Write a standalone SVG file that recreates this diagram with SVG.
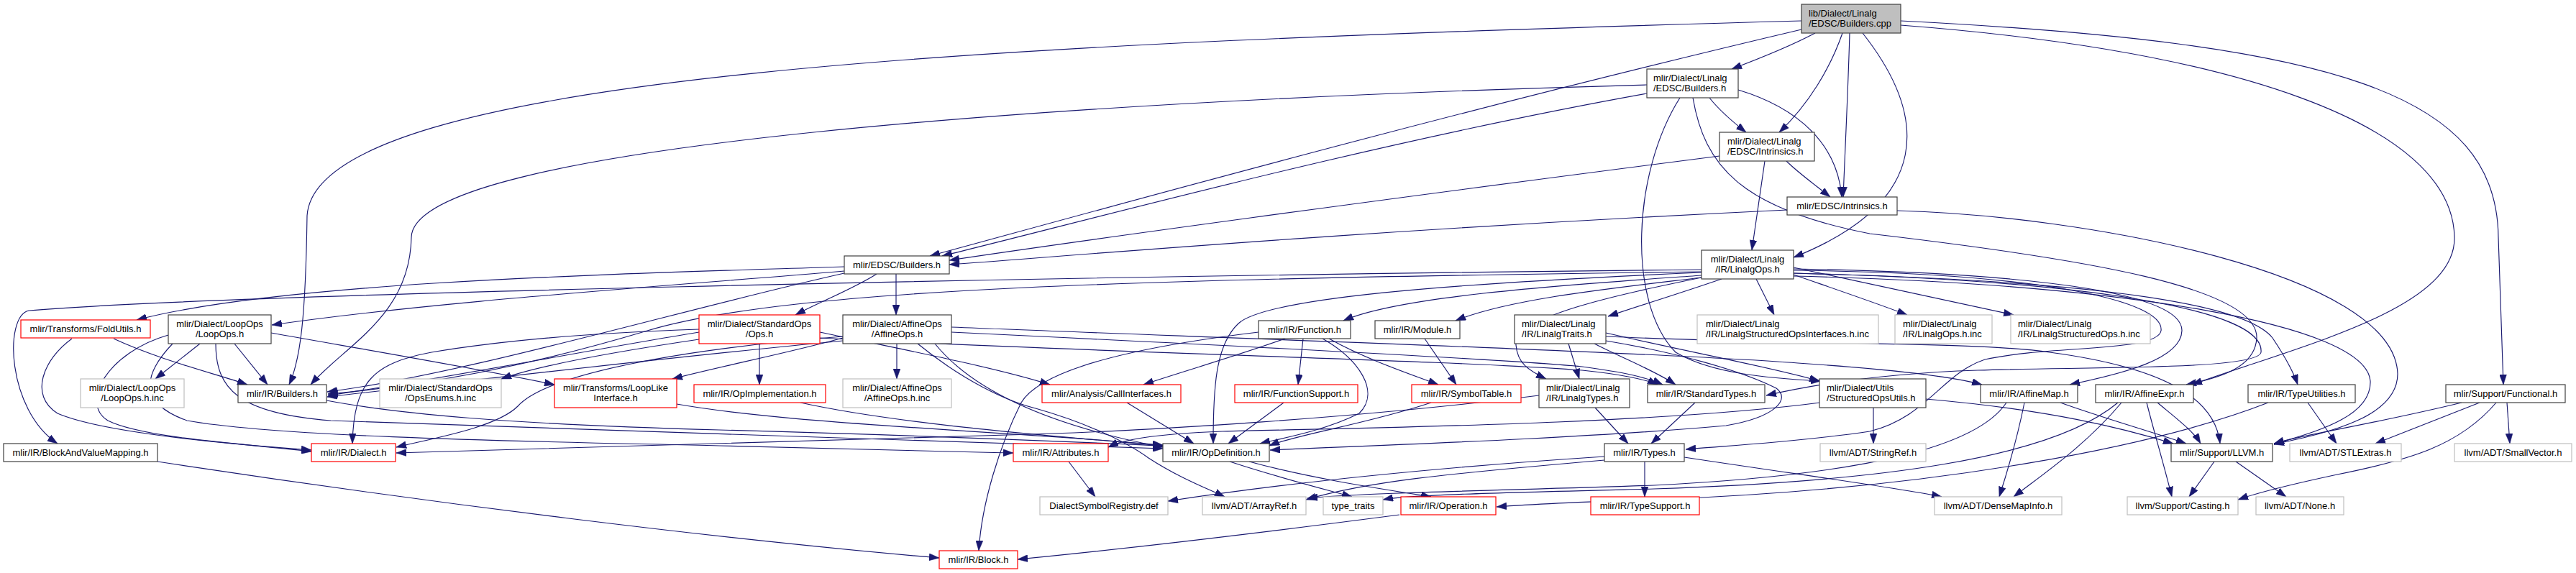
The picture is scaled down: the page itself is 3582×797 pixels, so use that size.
<svg xmlns="http://www.w3.org/2000/svg" width="3582" height="797" viewBox="0 0 3582 797">
<style>
rect{fill:#fff;stroke:#404040;stroke-width:1.2}
rect.root{fill:#bfbfbf}
rect.l{stroke:#bfbfbf}
rect.r{stroke:#ff0000}
text{font-family:"Liberation Sans",Arial,sans-serif;font-size:13px;fill:#000}
text.c{text-anchor:middle}
.e path{fill:none;stroke:#191970;stroke-width:1.15;marker-end:url(#a)}
</style>
<defs>
<marker id="a" markerUnits="userSpaceOnUse" markerWidth="14" markerHeight="10" viewBox="0 0 13.3 9.4" refX="13.3" refY="4.7" orient="auto">
<path d="M0,0 L13.3,4.7 L0,9.4 z" fill="#191970" stroke="#191970" stroke-width="0.5"/>
</marker>
</defs>
<rect x="0" y="0" width="3582" height="797" style="fill:#fff;stroke:none"/>
<g class="e" id="edges">
<path d="M2524,46 C2490,64 2445,82 2408,96"/>
<path d="M2562,46 C2545,95 2515,145 2474,184"/>
<path d="M2572,46 C2570,120 2566,200 2563,274"/>
<path d="M2590,46 C2680,160 2690,280 2494,358"/>
<path d="M2505,41 C2000,160 1500,300 1293,356"/>
<path d="M2505,29 C1400,60 440,100 427,300 C425,440 418,500 402,535"/>
<path d="M2643,35 C3100,70 3410,170 3413,330 C3415,430 3200,480 3048,535"/>
<path d="M2643,29 C3250,60 3472,130 3474,330 L3481,535"/>
<path d="M2377,136 C2392,155 2410,170 2428,184"/>
<path d="M2290,130 C1900,200 1500,310 1310,356"/>
<path d="M2417,125 C2500,150 2555,200 2561,274"/>
<path d="M2290,118 C1500,140 575,200 572,330 C570,440 480,480 432,535"/>
<path d="M2336,136 C2270,240 2262,420 2330,490 C2380,520 2460,526 2532,530"/>
<path d="M2354,136 C2370,230 2420,290 2600,325 C2900,360 3140,400 3138,470 C3136,510 3090,525 3040,535"/>
<path d="M2454,224 L2436,348"/>
<path d="M2484,224 C2500,240 2525,258 2545,274"/>
<path d="M2391,217 C1900,280 1500,335 1320,362"/>
<path d="M2485,292 C1900,320 1500,355 1320,368"/>
<path d="M2638,293 C2900,300 3330,380 3334,520 C3334,585 3220,605 3162,618"/>
<path d="M1174,371 C900,380 400,390 190,445"/>
<path d="M1174,377 C900,400 600,420 378,452"/>
<path d="M1219,381 C1190,400 1140,420 1106,438"/>
<path d="M1246,381 L1246,438"/>
<path d="M1174,380 C950,430 650,520 455,545"/>
<path d="M2394,388 C2330,410 2280,425 2236,440"/>
<path d="M2442,388 L2467,438"/>
<path d="M2494,382 C2560,405 2610,422 2652,438"/>
<path d="M2494,372 C2620,400 2740,425 2800,438"/>
<path d="M2366,383 C2200,395 1950,410 1868,446"/>
<path d="M2366,386 C2250,400 2100,415 2024,446"/>
<path d="M2366,379 C2000,395 1760,415 1722,450 C1690,480 1687,540 1687,617"/>
<path d="M2366,375 C1400,385 300,410 40,432 C5,440 10,570 80,617"/>
<path d="M2366,378 C1600,388 1100,400 900,460 C700,520 550,540 456,548"/>
<path d="M2366,386 C2250,410 2105,440 2108,480 C2110,505 2125,515 2150,527"/>
<path d="M2494,380 C2900,390 3150,430 3144,490 C3140,515 2900,510 2750,515 C2600,520 2500,540 2456,550"/>
<path d="M2494,376 C2850,380 3010,420 3005,460 C3000,490 2850,480 2760,500 C2700,520 2680,580 2600,600 C2500,615 2400,620 2344,625"/>
<path d="M2494,374 C2850,380 3035,410 3034,460 C3033,500 2950,520 2878,535"/>
<path d="M2494,380 C2900,390 3120,420 3160,470 C3180,500 3190,520 3195,535"/>
<path d="M2494,384 C2950,395 3290,450 3296,530 C3298,585 3200,605 3162,618"/>
<path d="M2181,478 L2196,527"/>
<path d="M2217,478 C2260,500 2300,515 2330,535"/>
<path d="M2233,463 C2350,490 2460,510 2530,530"/>
<path d="M2233,468 C2500,480 2750,475 2850,490 C3000,510 3080,550 3087,617"/>
<path d="M2233,474 C2330,490 2420,515 2470,540 C2490,555 2470,580 2400,592 C2200,610 1900,620 1766,626"/>
<path d="M1247,478 L1247,527"/>
<path d="M1172,470 C1100,490 1000,510 935,527"/>
<path d="M1172,474 C900,500 650,530 455,552"/>
<path d="M1323,455 C1700,470 2300,490 2500,505 C2650,515 2720,525 2756,535"/>
<path d="M1323,462 C1700,480 2100,500 2200,510 C2260,518 2290,525 2312,535"/>
<path d="M1276,478 C1340,530 1400,558 1440,568 C1500,585 1560,610 1597,637 C1640,665 1680,680 1703,691"/>
<path d="M1300,478 C1350,540 1450,590 1617,622"/>
<path d="M1172,468 C950,485 760,520 720,565 C690,595 600,610 551,622"/>
<path d="M1056,478 L1056,535"/>
<path d="M972,472 C850,490 750,508 697,527"/>
<path d="M972,462 C800,490 600,530 456,550"/>
<path d="M972,458 C850,462 720,470 600,490 C520,505 492,530 490,617"/>
<path d="M1140,470 C1500,490 2000,500 2200,515 C2250,520 2290,528 2305,535"/>
<path d="M1140,462 C1250,485 1380,510 1460,535"/>
<path d="M278,478 L216,527"/>
<path d="M326,478 L372,535"/>
<path d="M377,463 C500,485 650,510 771,535"/>
<path d="M234,466 C150,490 110,560 150,585 C200,610 350,618 433,628"/>
<path d="M240,478 C200,520 190,560 260,585 C400,610 800,615 1000,620 C1200,625 1300,628 1409,630"/>
<path d="M300,478 C300,540 330,575 460,585 C800,600 1300,610 1617,624"/>
<path d="M158,471 C220,500 300,520 344,535"/>
<path d="M100,471 C60,500 40,550 80,575 C150,605 350,620 433,626"/>
<path d="M454,557 C550,575 700,590 1000,598 C1300,606 1500,615 1617,620"/>
<path d="M941,562 C1100,590 1400,600 1617,619"/>
<path d="M1113,560 C1250,590 1450,605 1617,620"/>
<path d="M1567,560 L1660,617"/>
<path d="M1785,560 L1708,617"/>
<path d="M1839,471 C1890,500 1920,545 1890,575 C1840,600 1780,610 1752,617"/>
<path d="M1990,560 C1900,590 1800,605 1765,620"/>
<path d="M1787,471 C1720,495 1650,515 1590,535"/>
<path d="M1812,471 L1805,535"/>
<path d="M1848,471 C1900,500 1960,520 2000,535"/>
<path d="M1750,462 C1600,480 1450,510 1420,560 C1390,620 1365,700 1361,766"/>
<path d="M1981,471 L2025,535"/>
<path d="M219,642 C600,700 1000,750 1306,776"/>
<path d="M1946,716 C1800,735 1600,760 1415,778"/>
<path d="M1710,642 C1780,665 1840,680 1880,691"/>
<path d="M1737,642 C1820,665 1920,680 1990,691"/>
<path d="M1486,642 L1523,691"/>
<path d="M2287,642 L2287,691"/>
<path d="M2342,636 C2500,660 2650,680 2700,691"/>
<path d="M2231,635 C2000,650 1800,670 1624,697"/>
<path d="M2231,640 C2000,660 1900,670 1816,695"/>
<path d="M2790,560 C2750,620 2600,660 2300,675 C2100,682 1900,685 1818,693"/>
<path d="M2945,560 C2850,640 2600,670 2300,680 C2100,685 1960,688 1923,695"/>
<path d="M2865,560 C2920,580 2990,600 3040,617"/>
<path d="M2815,560 C2805,610 2790,660 2780,691"/>
<path d="M3000,560 C3030,585 3050,600 3060,617"/>
<path d="M2985,560 C2995,600 3010,650 3020,691"/>
<path d="M2950,560 C2900,620 2840,660 2800,691"/>
<path d="M3154,560 C3000,620 2700,680 2300,695 C2200,698 2120,702 2081,705"/>
<path d="M3209,560 L3249,617"/>
<path d="M2605,567 L2605,617"/>
<path d="M2678,555 C2850,570 2950,595 3022,617"/>
<path d="M2531,560 C2300,590 1900,595 1700,600 C1600,604 1560,612 1541,622"/>
<path d="M2218,567 L2264,617"/>
<path d="M2140,550 C1900,580 1600,600 1400,605 C1000,615 700,625 551,630"/>
<path d="M2357,560 L2296,617"/>
<path d="M3423,560 C3300,590 3200,605 3162,617"/>
<path d="M3448,560 L3303,617"/>
<path d="M3486,560 L3490,617"/>
<path d="M3471,560 C3420,620 3350,640 3250,660 C3180,675 3140,685 3112,695"/>
<path d="M3079,642 L3044,691"/>
<path d="M3109,642 L3179,691"/>
</g>
<g id="n_cpp"><rect class="root" x="2505" y="6" width="138" height="40"/><text x="2515" y="22.5">lib/Dialect/Linalg</text><text x="2515" y="36.5">/EDSC/Builders.cpp</text></g>
<g id="n_leb"><rect x="2290" y="96" width="127" height="40"/><text x="2299" y="112.5">mlir/Dialect/Linalg</text><text x="2299" y="126.5">/EDSC/Builders.h</text></g>
<g id="n_lei"><rect x="2391" y="184" width="132" height="40"/><text x="2402" y="200.5">mlir/Dialect/Linalg</text><text x="2402" y="214.5">/EDSC/Intrinsics.h</text></g>
<g id="n_ei"><rect x="2485" y="274" width="153" height="25"/><text class="c" x="2561.5" y="291">mlir/EDSC/Intrinsics.h</text></g>
<g id="n_eb"><rect x="1174" y="356" width="146" height="25"/><text class="c" x="1247" y="373">mlir/EDSC/Builders.h</text></g>
<g id="n_lo"><rect x="2366" y="348" width="128" height="40"/><text class="c" x="2430" y="364.5">mlir/Dialect/Linalg</text><text class="c" x="2430" y="378.5">/IR/LinalgOps.h</text></g>
<g id="n_fu"><rect class="r" x="29" y="445" width="180" height="25"/><text class="c" x="119" y="462">mlir/Transforms/FoldUtils.h</text></g>
<g id="n_loo"><rect x="234" y="438" width="143" height="40"/><text class="c" x="305.5" y="454.5">mlir/Dialect/LoopOps</text><text class="c" x="305.5" y="468.5">/LoopOps.h</text></g>
<g id="n_so"><rect class="r" x="972" y="438" width="168" height="40"/><text class="c" x="1056" y="454.5">mlir/Dialect/StandardOps</text><text class="c" x="1056" y="468.5">/Ops.h</text></g>
<g id="n_ao"><rect x="1172" y="438" width="151" height="40"/><text class="c" x="1247.5" y="454.5">mlir/Dialect/AffineOps</text><text class="c" x="1247.5" y="468.5">/AffineOps.h</text></g>
<g id="n_fn"><rect x="1750" y="446" width="128" height="25"/><text class="c" x="1814" y="463">mlir/IR/Function.h</text></g>
<g id="n_mod"><rect x="1912" y="446" width="118" height="25"/><text class="c" x="1971" y="463">mlir/IR/Module.h</text></g>
<g id="n_lt"><rect x="2106" y="438" width="127" height="40"/><text x="2116" y="454.5">mlir/Dialect/Linalg</text><text x="2116" y="468.5">/IR/LinalgTraits.h</text></g>
<g id="n_lsoi"><rect class="l" x="2360" y="438" width="252" height="40"/><text x="2372" y="454.5">mlir/Dialect/Linalg</text><text x="2372" y="468.5">/IR/LinalgStructuredOpsInterfaces.h.inc</text></g>
<g id="n_loi"><rect class="l" x="2635" y="438" width="135" height="40"/><text x="2646" y="454.5">mlir/Dialect/Linalg</text><text x="2646" y="468.5">/IR/LinalgOps.h.inc</text></g>
<g id="n_lso"><rect class="l" x="2796" y="438" width="194" height="40"/><text x="2806" y="454.5">mlir/Dialect/Linalg</text><text x="2806" y="468.5">/IR/LinalgStructuredOps.h.inc</text></g>
<g id="n_looi"><rect class="l" x="112" y="527" width="144" height="40"/><text class="c" x="184" y="543.5">mlir/Dialect/LoopOps</text><text class="c" x="184" y="557.5">/LoopOps.h.inc</text></g>
<g id="n_ib"><rect x="331" y="535" width="123" height="25"/><text class="c" x="392.5" y="552">mlir/IR/Builders.h</text></g>
<g id="n_oe"><rect class="l" x="528" y="527" width="169" height="40"/><text class="c" x="612.5" y="543.5">mlir/Dialect/StandardOps</text><text class="c" x="612.5" y="557.5">/OpsEnums.h.inc</text></g>
<g id="n_lli"><rect class="r" x="771" y="527" width="170" height="40"/><text class="c" x="856" y="543.5">mlir/Transforms/LoopLike</text><text class="c" x="856" y="557.5">Interface.h</text></g>
<g id="n_oi"><rect class="r" x="965" y="535" width="183" height="25"/><text class="c" x="1056.5" y="552">mlir/IR/OpImplementation.h</text></g>
<g id="n_aoi"><rect class="l" x="1172" y="527" width="151" height="40"/><text class="c" x="1247.5" y="543.5">mlir/Dialect/AffineOps</text><text class="c" x="1247.5" y="557.5">/AffineOps.h.inc</text></g>
<g id="n_ci"><rect class="r" x="1449" y="535" width="193" height="25"/><text class="c" x="1545.5" y="552">mlir/Analysis/CallInterfaces.h</text></g>
<g id="n_fs"><rect class="r" x="1717" y="535" width="171" height="25"/><text class="c" x="1802.5" y="552">mlir/IR/FunctionSupport.h</text></g>
<g id="n_st"><rect class="r" x="1963" y="535" width="152" height="25"/><text class="c" x="2039" y="552">mlir/IR/SymbolTable.h</text></g>
<g id="n_lty"><rect x="2140" y="527" width="126" height="40"/><text x="2150" y="543.5">mlir/Dialect/Linalg</text><text x="2150" y="557.5">/IR/LinalgTypes.h</text></g>
<g id="n_sty"><rect x="2291" y="535" width="163" height="25"/><text class="c" x="2372.5" y="552">mlir/IR/StandardTypes.h</text></g>
<g id="n_sou"><rect x="2530" y="527" width="148" height="40"/><text x="2540" y="543.5">mlir/Dialect/Utils</text><text x="2540" y="557.5">/StructuredOpsUtils.h</text></g>
<g id="n_am"><rect x="2754" y="535" width="135" height="25"/><text class="c" x="2821.5" y="552">mlir/IR/AffineMap.h</text></g>
<g id="n_ae"><rect x="2914" y="535" width="136" height="25"/><text class="c" x="2982" y="552">mlir/IR/AffineExpr.h</text></g>
<g id="n_tu"><rect x="3126" y="535" width="149" height="25"/><text class="c" x="3200.5" y="552">mlir/IR/TypeUtilities.h</text></g>
<g id="n_fnl"><rect x="3401" y="535" width="166" height="25"/><text class="c" x="3484" y="552">mlir/Support/Functional.h</text></g>
<g id="n_bavm"><rect x="5" y="617" width="214" height="25"/><text class="c" x="112" y="634">mlir/IR/BlockAndValueMapping.h</text></g>
<g id="n_di"><rect class="r" x="433" y="617" width="117" height="25"/><text class="c" x="491.5" y="634">mlir/IR/Dialect.h</text></g>
<g id="n_at"><rect class="r" x="1409" y="617" width="132" height="25"/><text class="c" x="1475" y="634">mlir/IR/Attributes.h</text></g>
<g id="n_od"><rect x="1617" y="617" width="148" height="25"/><text class="c" x="1691" y="634">mlir/IR/OpDefinition.h</text></g>
<g id="n_ty"><rect x="2231" y="617" width="111" height="25"/><text class="c" x="2286.5" y="634">mlir/IR/Types.h</text></g>
<g id="n_sr"><rect class="l" x="2531" y="617" width="147" height="25"/><text class="c" x="2604.5" y="634">llvm/ADT/StringRef.h</text></g>
<g id="n_ll"><rect x="3019" y="617" width="141" height="25"/><text class="c" x="3089.5" y="634">mlir/Support/LLVM.h</text></g>
<g id="n_stl"><rect class="l" x="3184" y="617" width="155" height="25"/><text class="c" x="3261.5" y="634">llvm/ADT/STLExtras.h</text></g>
<g id="n_sv"><rect class="l" x="3413" y="617" width="163" height="25"/><text class="c" x="3494.5" y="634">llvm/ADT/SmallVector.h</text></g>
<g id="n_dsr"><rect class="l" x="1446" y="691" width="178" height="25"/><text class="c" x="1535" y="708">DialectSymbolRegistry.def</text></g>
<g id="n_ar"><rect class="l" x="1672" y="691" width="144" height="25"/><text class="c" x="1744" y="708">llvm/ADT/ArrayRef.h</text></g>
<g id="n_tt"><rect class="l" x="1840" y="691" width="83" height="25"/><text class="c" x="1881.5" y="708">type_traits</text></g>
<g id="n_op"><rect class="r" x="1948" y="691" width="132" height="25"/><text class="c" x="2014" y="708">mlir/IR/Operation.h</text></g>
<g id="n_ts"><rect class="r" x="2212" y="691" width="151" height="25"/><text class="c" x="2287.5" y="708">mlir/IR/TypeSupport.h</text></g>
<g id="n_dmi"><rect class="l" x="2690" y="691" width="177" height="25"/><text class="c" x="2778.5" y="708">llvm/ADT/DenseMapInfo.h</text></g>
<g id="n_ca"><rect class="l" x="2958" y="691" width="154" height="25"/><text class="c" x="3035" y="708">llvm/Support/Casting.h</text></g>
<g id="n_no"><rect class="l" x="3137" y="691" width="122" height="25"/><text class="c" x="3198" y="708">llvm/ADT/None.h</text></g>
<g id="n_bl"><rect class="r" x="1306" y="766" width="109" height="25"/><text class="c" x="1360.5" y="783">mlir/IR/Block.h</text></g>
</svg>
